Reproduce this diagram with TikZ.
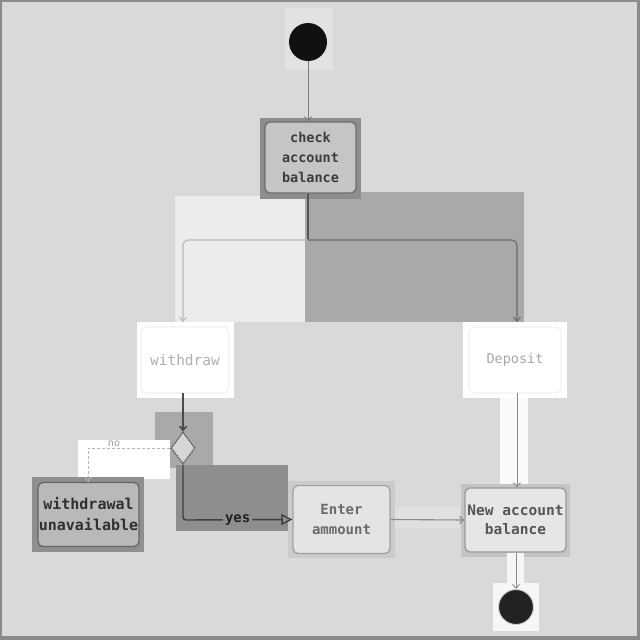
\documentclass[tikz,border=0pt]{standalone}
\usepackage{fontspec}
\newfontfamily\monof{DejaVu Sans Mono}
\usetikzlibrary{shapes.geometric,arrows.meta}
\definecolor{bg}{HTML}{D9D9D9}
\definecolor{frame}{HTML}{8A8A8A}
\definecolor{g11}{HTML}{111111}
\definecolor{g22}{HTML}{222222}
\definecolor{g30}{HTML}{303030}
\definecolor{g3e}{HTML}{3E3E3E}
\definecolor{g44}{HTML}{3C3C3C}
\definecolor{g4a}{HTML}{4A4A4A}
\definecolor{g50}{HTML}{505050}
\definecolor{g55}{HTML}{555555}
\definecolor{g65}{HTML}{656565}
\definecolor{g6a}{HTML}{6A6A6A}
\definecolor{g6e}{HTML}{6E6E6E}
\definecolor{g7a}{HTML}{7A7A7A}
\definecolor{g8a}{HTML}{8A8A8A}
\definecolor{g8d}{HTML}{8D8D8D}
\definecolor{g8e}{HTML}{8E8E8E}
\definecolor{g8f}{HTML}{8F8F8F}
\definecolor{g9a}{HTML}{9A9A9A}
\definecolor{ga0}{HTML}{A0A0A0}
\definecolor{ga8}{HTML}{A8A8A8}
\definecolor{ga9}{HTML}{A9A9A9}
\definecolor{gb0}{HTML}{B0B0B0}
\definecolor{gb5}{HTML}{B5B5B5}
\definecolor{gb8}{HTML}{B8B8B8}
\definecolor{gb9}{HTML}{B9B9B9}
\definecolor{gc4}{HTML}{C4C4C4}
\definecolor{gc5}{HTML}{C5C5C5}
\definecolor{gcb}{HTML}{CBCBCB}
\definecolor{gd0}{HTML}{D0D0D0}
\definecolor{gd6}{HTML}{D6D6D6}
\definecolor{ge0}{HTML}{E0E0E0}
\definecolor{ge2}{HTML}{E2E2E2}
\definecolor{ge4}{HTML}{E4E4E4}
\definecolor{ge6}{HTML}{E6E6E6}
\definecolor{ge8}{HTML}{E8E8E8}
\definecolor{gec}{HTML}{ECECEC}
\definecolor{gf6}{HTML}{F6F6F6}
\definecolor{gfa}{HTML}{FAFAFA}
\tikzset{
  patch/.style={fill=#1, draw=none},
  actbox/.style={rounded corners=5pt, align=center, inner sep=0pt, line width=1.3pt},
  barb/.style={-{Straight Barb[length=4pt,width=7pt]}},
  dkline/.style={draw=#1, line width=1.1pt},
}
\begin{document}
\begin{tikzpicture}[x=1pt,y=-1pt]
\useasboundingbox (0,0) rectangle (640,640);
% background and frame
\fill[frame] (0,0) rectangle (640,640);
\fill[bg] (2,2) rectangle (637,636);
% patches
\fill[patch=ge2] (285,8) rectangle (333,70);
\fill[patch=gec] (175,196) rectangle (305,322);
\fill[patch=ga9] (305,192) rectangle (524,322);
\fill[patch=g8d] (260,118) rectangle (361,199);
\fill[patch=white] (137,322) rectangle (234,398);
\fill[patch=white] (463,322) rectangle (567,398);
\fill[patch=gfa] (500,398) rectangle (528,487);
\fill[patch=ga9] (155,412) rectangle (213,468);
\fill[patch=g8e] (176,465) rectangle (288,531);
\fill[patch=white] (78,440) rectangle (170,479);
\fill[patch=g8f] (32,477) rectangle (144,552);
\fill[patch=gcb] (288,481) rectangle (395,558);
\fill[patch=ge0] (395,507) rectangle (460,528);
\fill[patch=gc4] (461,484) rectangle (570,557);
\fill[patch=gf6] (507,553) rectangle (524,585);
\fill[patch=gf6] (493,583) rectangle (539,631);
% nodes
\node[circle, fill=g11, minimum size=38pt, inner sep=0pt] (start) at (308,42) {};
\node[actbox, draw=g6e, fill=gc5, minimum width=91pt, minimum height=71pt,
      font=\monof\bfseries\fontsize{13.5}{20}\selectfont, text=g44] (check) at (310.5,157.5) {check\\account\\balance};
\node[actbox, draw=ge8, line width=0.6pt, fill=white, minimum width=88pt, minimum height=66pt,
      font=\monof\fontsize{14.5}{18}\selectfont, text=gb0] (withdraw) at (185,360) {withdraw};
\node[actbox, draw=ge8, line width=0.6pt, fill=white, minimum width=92pt, minimum height=66pt,
      font=\monof\fontsize{13.5}{18}\selectfont, text=ga8] (deposit) at (515,360) {Deposit};
\node[diamond, draw=g50, densely dotted, line width=1.3pt, fill=gd6,
      minimum width=24pt, minimum height=32pt, inner sep=0pt] (dec) at (183,448) {};
\node[actbox, draw=g65, fill=gb9, minimum width=101pt, minimum height=64pt,
      font=\monof\bfseries\fontsize{15}{21}\selectfont, text=g30] (wu) at (88.5,514.5) {withdrawal\\unavailable};
\node[actbox, draw=ga0, fill=ge4, minimum width=97pt, minimum height=68pt,
      font=\monof\bfseries\fontsize{14}{20}\selectfont, text=g6a] (enter) at (341.5,519.5) {Enter\\ammount};
\node[actbox, draw=g9a, fill=ge6, minimum width=101pt, minimum height=64pt,
      font=\monof\bfseries\fontsize{14.5}{19}\selectfont, text=g55] (nab) at (515.5,520) {New account\\balance};
\node[circle, fill=g22, draw=gd0, line width=1pt, minimum size=35pt, inner sep=0pt] (end) at (516,607) {};
% coordinates
\coordinate (fork) at (308,240);
\coordinate (wtop) at (183,322);
\coordinate (dtop) at (517,322);
\coordinate (nocorner) at (88,448);
\coordinate (yescorner) at (183,520);
% connectors
\draw[dkline=g7a, line width=0.9pt, barb] (start) -- (start |- check.north);
\draw[dkline=g55] (check.south -| fork) -- (fork);
\draw[dkline=gb8, rounded corners=5pt, barb] (fork) -| (wtop);
\draw[dkline=g6a, rounded corners=5pt, barb] (fork) -| (dtop);
\draw[dkline=g4a, line width=1.6pt, barb] (withdraw.south -| dec) -- (dec.north);
\draw[draw=gb5, line width=0.9pt, densely dashed, barb] (dec.west) -- (nocorner) -- (wu.north -| nocorner);
\node[font=\monof\fontsize{10}{12}\selectfont, text=ga0, inner sep=1pt] (nolab) at (114,444) {no};
\draw[dkline=g3e, line width=1.4pt, rounded corners=3pt, -{Triangle[open,length=11pt,width=11pt]}]
  (dec.south) -- (yescorner) -- node[pos=0.5, fill=g8e, inner sep=2pt,
  font=\monof\bfseries\fontsize{14}{16}\selectfont, text=g22] (yeslab) {yes} (enter.west);
\draw[dkline=g8a, barb] (enter.east) -- (nab.west);
\draw[dkline=g8a, line width=0.9pt, barb] (deposit.south -| dtop) -- (nab.north -| dtop);
\draw[dkline=g8a, line width=0.9pt, barb] (nab.south -| end) -- (end);
\end{tikzpicture}
\end{document}
